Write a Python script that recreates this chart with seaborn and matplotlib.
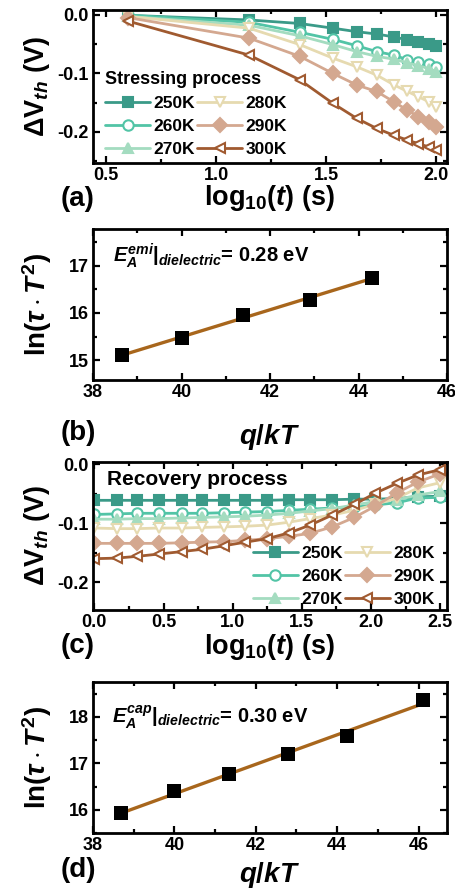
import matplotlib
matplotlib.use('Agg')
import matplotlib.pyplot as plt
import seaborn as sns
import pandas as pd
from matplotlib.ticker import MultipleLocator, FormatStrFormatter

# Temperatures and their styles
temps = ['250K', '260K', '270K', '280K', '290K', '300K']
colors = ['#3a9a88', '#52c4a6', '#a4dcc0', '#e6dab0', '#d4a890', '#a05a30']
markers = ['s', 'o', '^', 'v', 'D', '<']
hollow = [False, True, False, True, False, True]

# (a) stressing process
stress_logt = [0.60, 1.15, 1.38, 1.53, 1.64, 1.73, 1.81, 1.87, 1.92, 1.97, 2.00]
stress_250 = [-0.001, -0.009, -0.015, -0.023, -0.029, -0.033, -0.038, -0.043, -0.046, -0.050, -0.054]
stress_260 = [-0.001, -0.013, -0.030, -0.042, -0.053, -0.063, -0.069, -0.077, -0.081, -0.084, -0.089]
stress_270 = [-0.003, -0.018, -0.036, -0.051, -0.063, -0.071, -0.076, -0.082, -0.087, -0.092, -0.097]
stress_280 = [-0.003, -0.023, -0.051, -0.074, -0.089, -0.103, -0.120, -0.131, -0.140, -0.149, -0.157]
stress_290 = [-0.005, -0.040, -0.071, -0.100, -0.120, -0.131, -0.149, -0.163, -0.174, -0.183, -0.191]
stress_300 = [-0.011, -0.069, -0.111, -0.151, -0.177, -0.194, -0.206, -0.214, -0.220, -0.226, -0.231]

# (c) recovery process
recov_logt = [0.00, 0.16, 0.31, 0.47, 0.63, 0.78, 0.94, 1.09, 1.25, 1.41, 1.56, 1.72, 1.88, 2.03, 2.19, 2.34, 2.50]
recov_250 = [-0.061, -0.061, -0.061, -0.061, -0.061, -0.061, -0.061, -0.061, -0.061, -0.060, -0.060, -0.060, -0.059, -0.059, -0.058, -0.055, -0.054]
recov_260 = [-0.085, -0.084, -0.083, -0.083, -0.083, -0.083, -0.082, -0.081, -0.080, -0.078, -0.076, -0.074, -0.072, -0.069, -0.065, -0.057, -0.056]
recov_270 = [-0.093, -0.093, -0.092, -0.092, -0.091, -0.090, -0.089, -0.088, -0.086, -0.083, -0.079, -0.075, -0.069, -0.063, -0.060, -0.052, -0.046]
recov_280 = [-0.108, -0.109, -0.109, -0.108, -0.108, -0.107, -0.106, -0.105, -0.103, -0.098, -0.092, -0.086, -0.078, -0.068, -0.057, -0.040, -0.031]
recov_290 = [-0.134, -0.134, -0.134, -0.134, -0.133, -0.132, -0.131, -0.129, -0.126, -0.122, -0.117, -0.106, -0.090, -0.071, -0.048, -0.030, -0.016]
recov_300 = [-0.160, -0.159, -0.156, -0.152, -0.148, -0.144, -0.138, -0.132, -0.126, -0.116, -0.103, -0.086, -0.068, -0.049, -0.032, -0.018, -0.009]

# (b) emission and (d) capture Arrhenius data
emi_qkt = [38.65, 40.0, 41.4, 42.9, 44.3]
emi_ln = [15.10, 15.48, 15.95, 16.27, 16.75]
cap_qkt = [38.7, 40.0, 41.35, 42.8, 44.25, 46.1]
cap_ln = [15.92, 16.41, 16.77, 17.19, 17.59, 18.37]
fit_color = '#a8661c'

sns.set_style('ticks', {'text.color': 'black', 'axes.labelcolor': 'black',
                        'xtick.color': 'black', 'ytick.color': 'black',
                        'axes.edgecolor': 'black'})
plt.rcParams['font.family'] = 'Liberation Sans'
plt.rcParams['font.weight'] = 'bold'
plt.rcParams['axes.labelweight'] = 'bold'
plt.rcParams['axes.linewidth'] = 2
plt.rcParams['axes.unicode_minus'] = False
plt.rcParams['mathtext.fontset'] = 'custom'
plt.rcParams['mathtext.rm'] = 'Liberation Sans:bold'
plt.rcParams['mathtext.it'] = 'Liberation Sans:bold:italic'
plt.rcParams['mathtext.bf'] = 'Liberation Sans:bold'
plt.rcParams['xtick.labelsize'] = 13
plt.rcParams['ytick.labelsize'] = 13

fig = plt.figure(figsize=(4.56, 8.94), dpi=100)
W, H = 456, 894
L, R = 93, 447


def add_axes(top, bottom):
    return fig.add_axes([L / W, 1 - bottom / H, (R - L) / W, (bottom - top) / H])


def style_ticks(ax, xmaj, xmin, ymaj, ymin):
    ax.xaxis.set_major_locator(MultipleLocator(xmaj))
    ax.xaxis.set_minor_locator(MultipleLocator(xmin))
    ax.yaxis.set_major_locator(MultipleLocator(ymaj))
    ax.yaxis.set_minor_locator(MultipleLocator(ymin))
    ax.tick_params(which='both', direction='in', top=True, right=True, width=1.6)
    ax.tick_params(which='major', length=5, pad=3)
    ax.tick_params(which='minor', length=3)


def draw_series(ax, x, ys):
    for lab, y, c, m, h in zip(temps, ys, colors, markers, hollow):
        df = pd.DataFrame({'x': x, 'y': y})
        sns.lineplot(data=df, x='x', y='y', ax=ax, color=c, marker=m, markersize=7.5,
                     markerfacecolor='white' if h else c, markeredgecolor=c,
                     markeredgewidth=1.5, linewidth=2, label=lab, legend=False)


# (a)
ax_a = add_axes(10, 163)
draw_series(ax_a, stress_logt, [stress_250, stress_260, stress_270, stress_280, stress_290, stress_300])
ax_a.set_xlim(0.44, 2.05)
ax_a.set_ylim(-0.253, 0.008)
style_ticks(ax_a, 0.5, 0.25, 0.1, 0.05)
ax_a.xaxis.set_major_formatter(FormatStrFormatter('%.1f'))
ax_a.yaxis.set_major_formatter(FormatStrFormatter('%.1f'))
ax_a.set_xlabel(r'log$_{10}$($t$) (s)', fontsize=19.5)
ax_a.set_ylabel(r'$\mathit{\Delta}$V$_{th}$ (V)', fontsize=19.5)
ax_a.xaxis.set_label_coords(0.5, -0.13)
ax_a.yaxis.set_label_coords(-0.115, 0.5)
ax_a.legend(ncol=2, loc='lower left', bbox_to_anchor=(0.0, -0.04), frameon=False,
            title='Stressing process', title_fontproperties={'weight': 'bold', 'size': 13},
            fontsize=12.5, handlelength=2.6, handletextpad=0.2, columnspacing=0.1,
            labelspacing=0.45, borderpad=0.2, alignment='left')

# (b)
ax_b = add_axes(229, 380)
sns.regplot(x=emi_qkt, y=emi_ln, ax=ax_b, ci=None, marker='s', color='black',
            scatter_kws={'s': 95, 'zorder': 3, 'linewidths': 0, 'alpha': 1},
            line_kws={'color': fit_color, 'lw': 2.4, 'zorder': 2})
ax_b.set_xlim(38, 46)
ax_b.set_ylim(14.58, 17.78)
style_ticks(ax_b, 2, 1, 1, 0.5)
ax_b.set_xlabel(r'$q/kT$', fontsize=20)
ax_b.set_ylabel(r'ln($\tau\cdot T^2$)', fontsize=20)
ax_b.xaxis.set_label_coords(0.5, -0.28)
ax_b.yaxis.set_label_coords(-0.11, 0.5)
ax_b.text(0.056, 0.78, r'$E_A^{emi}|_{dielectric}$= 0.28 eV', transform=ax_b.transAxes,
          fontsize=14.5, va='baseline', ha='left')

# (c)
ax_c = add_axes(462, 610)
draw_series(ax_c, recov_logt, [recov_250, recov_260, recov_270, recov_280, recov_290, recov_300])
ax_c.set_xlim(-0.01, 2.55)
ax_c.set_ylim(-0.247, 0.004)
style_ticks(ax_c, 0.5, 0.25, 0.1, 0.05)
ax_c.xaxis.set_major_formatter(FormatStrFormatter('%.1f'))
ax_c.yaxis.set_major_formatter(FormatStrFormatter('%.1f'))
ax_c.set_xlabel(r'log$_{10}$($t$) (s)', fontsize=19.5)
ax_c.set_ylabel(r'$\mathit{\Delta}$V$_{th}$ (V)', fontsize=19.5)
ax_c.xaxis.set_label_coords(0.5, -0.15)
ax_c.yaxis.set_label_coords(-0.115, 0.5)
ax_c.legend(ncol=2, loc='lower right', bbox_to_anchor=(1.0, -0.06), frameon=False,
            fontsize=12.5, handlelength=2.6, handletextpad=0.2, columnspacing=0.1,
            labelspacing=0.45, borderpad=0.2)
ax_c.text(0.04, 0.845, 'Recovery process', transform=ax_c.transAxes, fontsize=15,
          va='baseline', ha='left')

# (d)
ax_d = add_axes(682, 833)
sns.regplot(x=cap_qkt, y=cap_ln, ax=ax_d, ci=None, marker='s', color='black',
            scatter_kws={'s': 95, 'zorder': 3, 'linewidths': 0, 'alpha': 1},
            line_kws={'color': fit_color, 'lw': 2.4, 'zorder': 2})
ax_d.set_xlim(38, 46.7)
ax_d.set_ylim(15.5, 18.75)
style_ticks(ax_d, 2, 1, 1, 0.5)
ax_d.set_xlabel(r'$q/kT$', fontsize=20)
ax_d.set_ylabel(r'ln($\tau\cdot T^2$)', fontsize=20)
ax_d.xaxis.set_label_coords(0.5, -0.18)
ax_d.yaxis.set_label_coords(-0.11, 0.5)
ax_d.text(0.054, 0.728, r'$E_A^{cap}|_{dielectric}$= 0.30 eV', transform=ax_d.transAxes,
          fontsize=14.5, va='baseline', ha='left')

# panel letters
for lab, yp in zip(['(a)', '(b)', '(c)', '(d)'], [199, 433, 646, 870]):
    fig.text(78 / W, 1 - yp / H, lab, fontsize=20, ha='center', va='center')

fig.savefig('out.png', dpi=100)
